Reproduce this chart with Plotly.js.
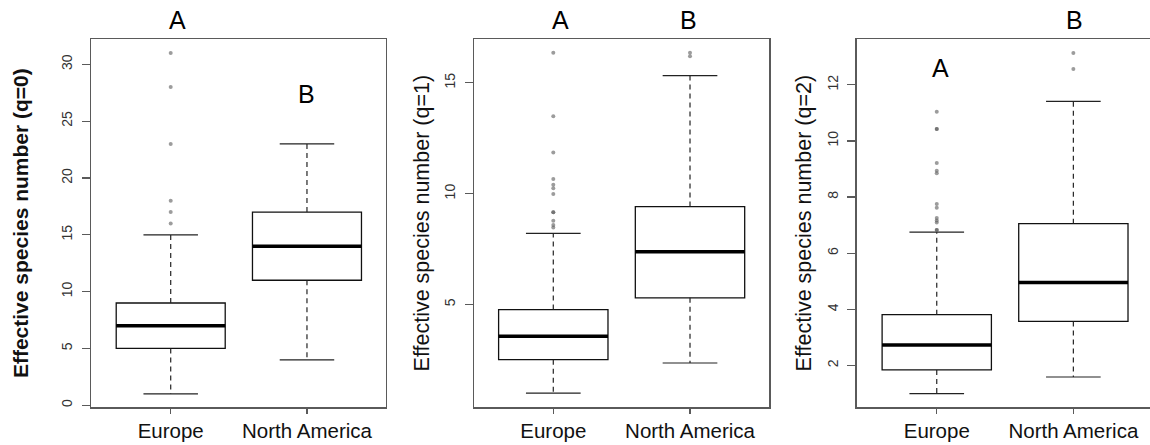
<!DOCTYPE html>
<html>
<head>
<meta charset="utf-8">
<script src="https://cdn.plot.ly/plotly-3.0.1.min.js"></script>
<style>html,body{margin:0;padding:0;background:#fff;}#chart{width:1150px;height:445px;}</style>
</head>
<body>
<div id="chart"></div>
<script>
// ---- data ----
const categories = ['Europe', 'North America'];
const positions = [1, 2];

// q = 0
const q0Lower = [1, 4];
const q0Q1 = [5, 11];
const q0Median = [7, 14];
const q0Q3 = [9, 17];
const q0Upper = [15, 23];
const q0OutEurope = [16, 17, 18, 23, 28, 31];
const q0OutNorthAmerica = [];

// q = 1
const q1Lower = [1.0, 2.36];
const q1Q1 = [2.51, 5.30];
const q1Median = [3.57, 7.38];
const q1Q3 = [4.77, 9.42];
const q1Upper = [8.21, 15.33];
const q1OutEurope = [16.36, 13.49, 11.86, 10.66, 10.40, 10.25, 9.99, 9.16, 9.16, 8.78, 8.59, 8.47];
const q1OutNorthAmerica = [16.36, 16.20];

// q = 2
const q2Lower = [1.0, 1.59];
const q2Q1 = [1.84, 3.57];
const q2Median = [2.73, 4.96];
const q2Q3 = [3.81, 7.05];
const q2Upper = [6.75, 11.41];
const q2OutEurope = [11.04, 10.42, 10.42, 9.21, 8.94, 8.85, 7.75, 7.62, 7.25, 7.16, 7.09, 6.83, 6.83];
const q2OutNorthAmerica = [13.13, 12.56];

const yTitles = ['Effective species number (q=0)', 'Effective species number (q=1)', 'Effective species number (q=2)'];
const letters = [['A', 'B'], ['A', 'B'], ['A', 'B']];

// ---- drawing ----
const FONT = 'Liberation Sans, Arial, sans-serif';
const FRAME = '#5a5a5a';
const BOXW = 0.8, CAPW = 0.4;

const panels = [
  {lo: q0Lower, q1: q0Q1, med: q0Median, q3: q0Q3, hi: q0Upper, out: [q0OutEurope, q0OutNorthAmerica]},
  {lo: q1Lower, q1: q1Q1, med: q1Median, q3: q1Q3, hi: q1Upper, out: [q1OutEurope, q1OutNorthAmerica]},
  {lo: q2Lower, q1: q2Q1, med: q2Median, q3: q2Q3, hi: q2Upper, out: [q2OutEurope, q2OutNorthAmerica]}
];

const traces = [];
panels.forEach((p, i) => {
  const xa = i === 0 ? 'x' : 'x' + (i + 1);
  const ya = i === 0 ? 'y' : 'y' + (i + 1);
  // box body
  traces.push({
    type: 'box', xaxis: xa, yaxis: ya, x: positions,
    q1: p.q1, median: p.med, q3: p.q3, lowerfence: p.q1, upperfence: p.q3,
    width: BOXW, whiskerwidth: 0, boxpoints: false,
    fillcolor: '#ffffff', line: {color: '#111', width: 1.3}, hoverinfo: 'skip'
  });
  // thick median
  const mx = [], my = [];
  positions.forEach((c, k) => { mx.push(c - BOXW / 2, c + BOXW / 2, null); my.push(p.med[k], p.med[k], null); });
  traces.push({type: 'scatter', mode: 'lines', xaxis: xa, yaxis: ya, x: mx, y: my, line: {color: '#000', width: 3.5}, hoverinfo: 'skip'});
  // dashed whiskers
  const wx = [], wy = [];
  positions.forEach((c, k) => { wx.push(c, c, null, c, c, null); wy.push(p.q3[k], p.hi[k], null, p.q1[k], p.lo[k], null); });
  traces.push({type: 'scatter', mode: 'lines', xaxis: xa, yaxis: ya, x: wx, y: wy, line: {color: '#222', width: 1.2, dash: '5px,4px'}, hoverinfo: 'skip'});
  // caps
  const cx = [], cy = [];
  positions.forEach((c, k) => { cx.push(c - CAPW / 2, c + CAPW / 2, null, c - CAPW / 2, c + CAPW / 2, null); cy.push(p.hi[k], p.hi[k], null, p.lo[k], p.lo[k], null); });
  traces.push({type: 'scatter', mode: 'lines', xaxis: xa, yaxis: ya, x: cx, y: cy, line: {color: '#222', width: 1.2}, hoverinfo: 'skip'});
  // outliers
  const ox = [], oy = [];
  positions.forEach((c, k) => { p.out[k].forEach(v => { ox.push(c); oy.push(v); }); });
  traces.push({type: 'scatter', mode: 'markers', xaxis: xa, yaxis: ya, x: ox, y: oy,
    marker: {size: 4, color: 'rgba(90,90,90,0.6)', line: {width: 0}}, hoverinfo: 'skip'});
});

const W = 1150, H = 445;
const yDomain = [1 - 407.3 / H, 1 - 39 / H];
const xDomains = [[91 / W, 386 / W], [474 / W, 769.3 / W], [856.7 / W, 1]];
const xRanges = [[0.415, 2.58], [0.42, 2.58], [0.414, 2.561]];
const yRanges = [[-0.18, 32.23], [0.36, 16.98], [0.51, 13.63]];
const yTicks = [[0, 5, 10, 15, 20, 25, 30], [5, 10, 15], [2, 4, 6, 8, 10, 12]];
const titleBold = [true, false, false];
const titleStandoff = [24, 6, 7];

const layout = {
  width: W, height: H, margin: {l: 0, r: 0, t: 0, b: 0},
  paper_bgcolor: '#fff', plot_bgcolor: '#fff', showlegend: false,
  font: {family: FONT, color: '#111'},
  annotations: []
};

for (let i = 0; i < 3; i++) {
  const sx = i === 0 ? '' : String(i + 1);
  layout['xaxis' + sx] = {
    domain: xDomains[i], anchor: 'y' + sx, range: xRanges[i],
    tickvals: positions, ticktext: categories,
    showline: true, mirror: true, linecolor: FRAME, linewidth: 1.3,
    ticks: 'outside', ticklen: 5, tickcolor: FRAME, tickwidth: 1.2,
    showgrid: false, zeroline: false, fixedrange: true,
    tickfont: {family: FONT, size: 20.5, color: '#111'}, ticklabelstandoff: 0
  };
  layout['yaxis' + sx] = {
    domain: yDomain, anchor: 'x' + sx, range: yRanges[i],
    tickvals: yTicks[i], tickangle: -90,
    showline: true, mirror: true, linecolor: FRAME, linewidth: 1.3,
    ticks: 'outside', ticklen: 8, tickcolor: FRAME, tickwidth: 1.2,
    showgrid: false, zeroline: false, fixedrange: true,
    tickfont: {family: FONT, size: 14, color: '#333'}, ticklabelstandoff: 4,
    title: {text: titleBold[i] ? '<b>' + yTitles[i] + '</b>' : yTitles[i],
            font: {family: FONT, size: titleBold[i] ? 21 : 21.5, color: '#111'}, standoff: titleStandoff[i]}
  };
}

// significance letters
const letterPos = [
  [{x: 1.05, y: 0.955, ref: 'paper'}, {x: 2.0, y: 27.4, ref: 'data'}],
  [{x: 1.05, y: 0.955, ref: 'paper'}, {x: 1.99, y: 0.955, ref: 'paper'}],
  [{x: 1.03, y: 12.6, ref: 'data'}, {x: 2.01, y: 0.955, ref: 'paper'}]
];
letters.forEach((pair, i) => {
  const sx = i === 0 ? '' : String(i + 1);
  pair.forEach((t, k) => {
    const lp = letterPos[i][k];
    layout.annotations.push({
      text: t, xref: 'x' + sx, x: lp.x,
      yref: lp.ref === 'paper' ? 'paper' : 'y' + sx, y: lp.y,
      showarrow: false, xanchor: 'center', yanchor: 'middle',
      font: {family: FONT, size: 25, color: '#000'}
    });
  });
});

Plotly.newPlot('chart', traces, layout, {staticPlot: true});
</script>
</body>
</html>
